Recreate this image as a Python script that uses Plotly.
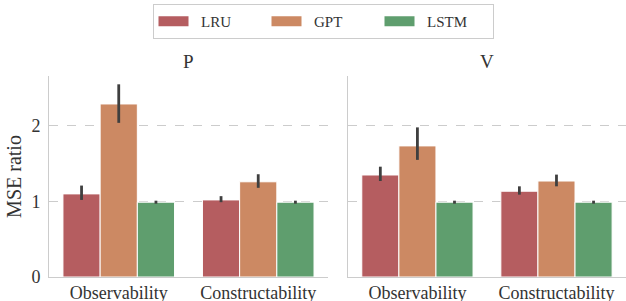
import plotly.graph_objects as go

categories = ["Observability", "Constructability"]
models = ["LRU", "GPT", "LSTM"]
colors = {"LRU": "#b55d60", "GPT": "#cc8963", "LSTM": "#5f9e6e"}

# Panel P
p_vals = {"LRU": [1.10, 1.02], "GPT": [2.29, 1.26], "LSTM": [0.99, 0.99]}
p_hi = {"LRU": [1.21, 1.07], "GPT": [2.55, 1.36], "LSTM": [1.01, 1.01]}
p_lo = {"LRU": [1.02, 0.99], "GPT": [2.04, 1.18], "LSTM": [0.97, 0.97]}
# Panel V
v_vals = {"LRU": [1.35, 1.135], "GPT": [1.735, 1.27], "LSTM": [0.99, 0.99]}
v_hi = {"LRU": [1.46, 1.20], "GPT": [1.98, 1.355], "LSTM": [1.01, 1.01]}
v_lo = {"LRU": [1.27, 1.09], "GPT": [1.55, 1.20], "LSTM": [0.97, 0.97]}

panel_titles = ["P", "V"]
FONT = "Liberation Serif, DejaVu Serif, Times New Roman, serif"

fig = go.Figure()

for i, (vals, hi, lo) in enumerate([(p_vals, p_hi, p_lo), (v_vals, v_hi, v_lo)]):
    xa = "x" if i == 0 else "x2"
    ya = "y" if i == 0 else "y2"
    for m in models:
        fig.add_trace(go.Bar(
            x=categories, y=vals[m], name=m, xaxis=xa, yaxis=ya,
            marker=dict(color=colors[m], line=dict(color="white", width=1)),
            error_y=dict(type="data", symmetric=False,
                         array=[h - v for h, v in zip(hi[m], vals[m])],
                         arrayminus=[v - l for l, v in zip(lo[m], vals[m])],
                         color="#3f3f3f", thickness=2.8, width=0),
            showlegend=False,
        ))

for m in models:
    fig.add_trace(go.Scatter(x=[None], y=[None], mode="lines", name="\u2002" + m,
                             line=dict(color=colors[m], width=10), showlegend=True))

axis_common = dict(showline=True, linecolor="#cccccc", linewidth=1, ticks="",
                   automargin=False,
                   tickfont=dict(family=FONT, size=18, color="#333333"))
fig.update_layout(
    width=626, height=301,
    margin=dict(l=49, r=0, t=76, b=24, autoexpand=False),
    paper_bgcolor="white", plot_bgcolor="white",
    barmode="group", bargap=0.2, bargroupgap=0,
    font=dict(family=FONT, size=16, color="#333333"),
    xaxis=dict(domain=[0, 0.4835], range=[-0.5, 1.5], ticklabelstandoff=-1, **axis_common),
    xaxis2=dict(domain=[0.518, 1.0], range=[-0.5, 1.5], anchor="y2", ticklabelstandoff=-1,
                **axis_common),
    yaxis=dict(range=[0, 2.66], tickvals=[0, 1, 2], showgrid=True, gridcolor="#cccccc",
               griddash="dash", gridwidth=1, zeroline=False, ticklabelstandoff=4,
               title=dict(text="MSE ratio", standoff=4, font=dict(family=FONT, size=20)),
               **axis_common),
    yaxis2=dict(range=[0, 2.66], tickvals=[0, 1, 2], showticklabels=False, showgrid=True,
                gridcolor="#cccccc", griddash="dash", gridwidth=1, zeroline=False,
                anchor="x2", **axis_common),
    legend=dict(orientation="h", xref="paper", yref="paper",
                x=(323 - 49) / 577, xanchor="center", y=1 + (76 - 4) / 201, yanchor="top",
                bordercolor="#cccccc", borderwidth=1, bgcolor="white",
                font=dict(family=FONT, size=15, color="#333333"),
                entrywidth=68, entrywidthmode="pixels"),
)

for i, t in enumerate(panel_titles):
    fig.add_annotation(text=t, xref="x domain" if i == 0 else "x2 domain",
                       yref="paper", x=0.5, y=1.0, yshift=2, yanchor="bottom",
                       showarrow=False, font=dict(family=FONT, size=19, color="#333333"))

fig.write_html("out.html", config={"displayModeBar": False},
               post_script="document.body.style.margin='0';document.body.style.overflow='hidden';")
